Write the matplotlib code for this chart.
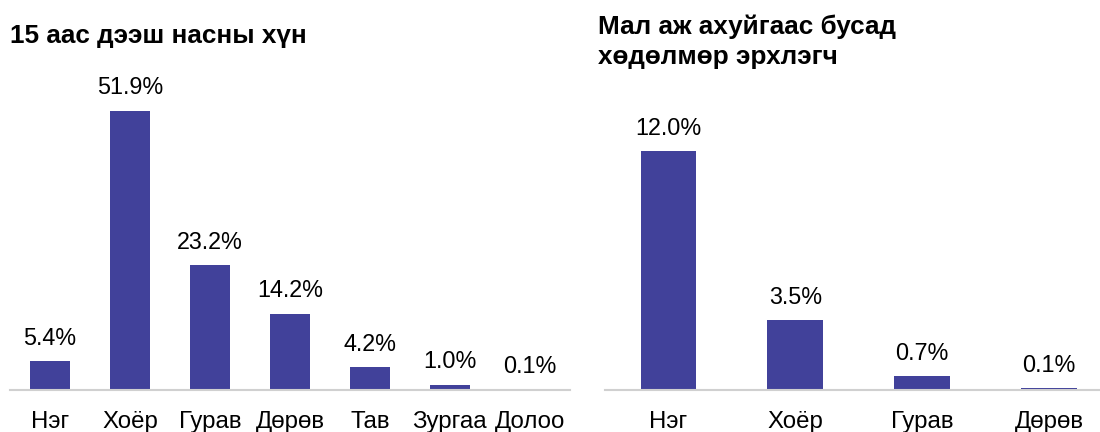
import matplotlib.pyplot as plt

plt.rcParams['font.family'] = ['Liberation Sans', 'DejaVu Sans']

# data
left_cats = ["Нэг", "Хоёр", "Гурав", "Дөрөв", "Тав", "Зургаа", "Долоо"]
left_vals = [5.4, 51.9, 23.2, 14.2, 4.2, 1.0, 0.1]
right_cats = ["Нэг", "Хоёр", "Гурав", "Дөрөв"]
right_vals = [12.0, 3.5, 0.7, 0.1]

left_title = "15 аас дээш насны хүн"
right_title = "Мал аж ахуйгаас бусад\nхөдөлмөр эрхлэгч"

bar_color = "#41419a"
W, H = 1100, 432

fig = plt.figure(figsize=(11, 4.32), dpi=100)

def panel(x0, x1, cats, vals, xmax, ymax, width):
    ax = fig.add_axes([x0 / W, 42 / H, (x1 - x0) / W, 310 / H])
    x = range(len(cats))
    bars = ax.bar(x, vals, width=width, color=bar_color)
    for b, v in zip(bars, vals):
        ax.annotate(f"{v:.1f}%", (b.get_x() + b.get_width() / 2, v),
                    xytext=(0, 16.5), textcoords="offset points",
                    ha="center", va="center", fontsize=16.8)
    ax.set_xlim(-0.5, xmax)
    ax.set_ylim(0, ymax)
    ax.set_xticks(list(x))
    ax.set_xticklabels(cats, fontsize=17.3)
    ax.tick_params(axis="x", length=0, pad=15)
    ax.set_yticks([])
    for s in ["top", "right", "left"]:
        ax.spines[s].set_visible(False)
    ax.spines["bottom"].set_color("#d0d0d0")
    ax.spines["bottom"].set_linewidth(1.5)
    return ax

panel(10, 570, left_cats, left_vals, 6.5, 52.4 * 310 / 282, 0.5)
panel(605, 1100, right_cats, right_vals, 3.4, 12.0 * 310 / 239, 0.44)

fig.text(10 / W, 1 - 36 / H, left_title, fontsize=18.8, fontweight="bold",
         ha="left", va="center")
fig.text(598 / W, 1 - 42 / H, right_title, fontsize=18.8, fontweight="bold",
         ha="left", va="center", linespacing=1.3)

fig.savefig("out.png", dpi=100)
